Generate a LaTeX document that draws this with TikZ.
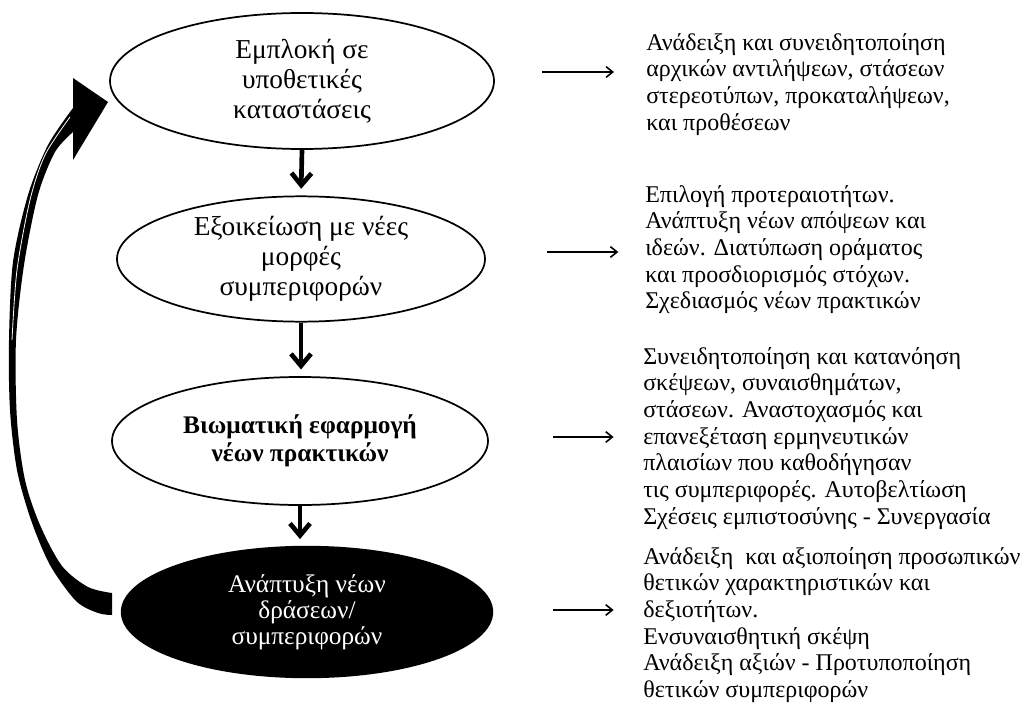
\documentclass[tikz,border=0pt]{standalone}
\usepackage{fontspec}
\setmainfont{Liberation Serif}
\usetikzlibrary{shapes.geometric,arrows.meta,positioning}

\begin{document}
\begin{tikzpicture}[x=0.75pt,y=-0.75pt]
	\tikzstyle{every node}+=[inner sep=0pt]
	\tikzstyle{stage}=[ellipse,draw=black,line width=1.3pt,fill=white,align=center,
		font=\fontsize{20.5}{22.5}\selectfont]
	\tikzstyle{note}=[anchor=north west,align=left,font=\fontsize{18}{20}\selectfont]
	\tikzstyle{down}=[line width=3.5pt,-{Straight Barb[length=9pt,width=15pt]},shorten >=5pt]
	\tikzstyle{side}=[line width=1.2pt,-{Straight Barb[length=5pt,width=8pt]}]
	\useasboundingbox (0,0) rectangle (1027,706);

	\node [stage,minimum width=288pt,minimum height=102pt] (e1) at (302,81)
		{Εμπλοκή σε\\υποθετικές\\καταστάσεις};
	\node [stage,minimum width=276pt,minimum height=94pt] (e2) at (301,259)
		{Εξοικείωση με νέες\\μορφές\\συμπεριφορών};
	\node [stage,minimum width=282pt,minimum height=96pt,font=\fontsize{19}{21}\selectfont\bfseries] (e3) at (300,441)
		{Βιωματική εφαρμογή\\νέων πρακτικών};
	\node [stage,minimum width=278pt,minimum height=98pt,fill=black,text=white,font=\fontsize{19}{19.5}\selectfont] (e4) at (307,612)
		{Ανάπτυξη νέων\\δράσεων/\\συμπεριφορών};

	\draw [down] (e1.south) -- (e2.north);
	\draw [down] (e2.south) -- (e2.south |- e3.north);
	\draw [down] (e3.south) -- (e3.south |- e4.north);

	\node [note] (t1) at (646,33) {Ανάδειξη και συνειδητοποίηση\\αρχικών αντιλήψεων, στάσεων\\στερεοτύπων, προκαταλήψεων,\\και προθέσεων};
	\node [note] (t2) at (645,185) {Επιλογή προτεραιοτήτων.\\Ανάπτυξη νέων απόψεων και\\ιδεών. Διατύπωση οράματος\\και προσδιορισμός στόχων.\\Σχεδιασμός νέων πρακτικών};
	\node [note] (t3) at (643,347) {Συνειδητοποίηση και κατανόηση\\σκέψεων, συναισθημάτων,\\στάσεων. Αναστοχασμός και\\επανεξέταση ερμηνευτικών\\πλαισίων που καθοδήγησαν\\τις συμπεριφορές. Αυτοβελτίωση\\Σχέσεις εμπιστοσύνης - Συνεργασία};
	\node [note] (t4) at (643,547) {Ανάδειξη~ και αξιοποίηση προσωπικών\\θετικών χαρακτηριστικών και\\δεξιοτήτων.\\Ενσυναισθητική σκέψη\\Ανάδειξη αξιών - Προτυποποίηση\\θετικών συμπεριφορών};

	\coordinate (s1) at (542,72);
	\coordinate (s2) at (547,252);
	\coordinate (s3) at (553,437);
	\coordinate (s4) at (553,610);
	\draw [side] (s1) -- ([xshift=-24]s1 -| t1.west);
	\draw [side] (s2) -- ([xshift=-20]s2 -| t2.west);
	\draw [side] (s3) -- ([xshift=-22]s3 -| t3.west);
	\draw [side] (s4) -- ([xshift=-22]s4 -| t4.west);

	\fill [black] (73,78) -- (108,102) -- (73,160) -- (73,132)
		-- plot [smooth] coordinates {(73,132) (55,152) (38,195) (24,265) (16,340) (17,420) (25,480) (40,525) (62,566) (88,587) (112,593)}
		-- (112,615)
		-- plot [smooth] coordinates {(112,615) (98,613) (76,601) (50,565) (31,520) (17,470) (10,410) (9,340) (13,262) (28,195) (48,145) (73,108)}
		-- cycle;
	\draw [white,line width=0.6pt] plot [smooth] coordinates {(70,117) (45,155) (30,200) (17,270) (12,340)};
\end{tikzpicture}
\end{document}
